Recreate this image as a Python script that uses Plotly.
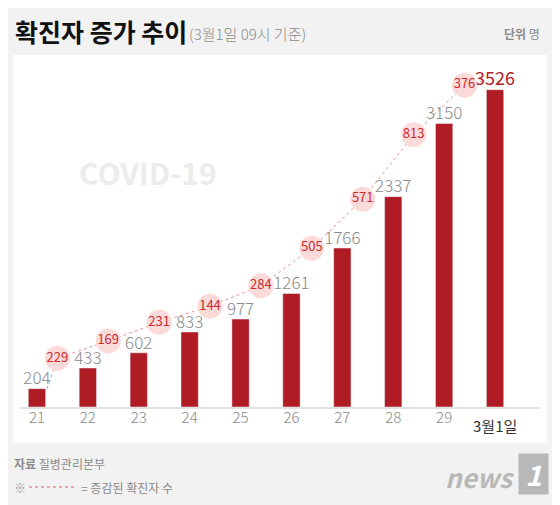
import plotly.graph_objects as go

days = ["21", "22", "23", "24", "25", "26", "27", "28", "29", "3월1일"]
cases = [204, 433, 602, 833, 977, 1261, 1766, 2337, 3150, 3526]
increase = [229, 169, 231, 144, 284, 505, 571, 813, 376]

FONT = "Noto Sans CJK KR"
RED = "#b01c24"
W, H = 560, 505
OFF = 8  # page body margin seen in the screenshot
x = list(range(len(days)))

# bubble positions along the dotted line between neighbouring bars
bx = [i + 0.4 for i in range(len(increase))]
by = [cases[i] + 0.6 * (cases[i + 1] - cases[i]) + 200 for i in range(len(increase))]
lx = [0.2] + bx + [8.8]
ly = [cases[0]] + by + [cases[-1] + 100]

fig = go.Figure()

fig.add_trace(go.Scatter(x=lx, y=ly, mode="lines",
                         line=dict(color="#e89090", width=1, dash="dot"),
                         hoverinfo="skip"))

fig.add_trace(go.Bar(x=x, y=cases, marker_color=RED, width=0.34,
                     hoverinfo="skip"))

fig.add_trace(go.Scatter(
    x=x[:-1], y=cases[:-1], mode="text", text=[str(v) for v in cases[:-1]],
    textposition="top center",
    textfont=dict(family=FONT, size=17, color="#8a8a8a", weight=300),
    hoverinfo="skip"))
fig.add_trace(go.Scatter(
    x=[x[-1]], y=[cases[-1]], mode="text", text=[str(cases[-1])],
    textposition="top center",
    textfont=dict(family=FONT, size=18, color=RED, weight=400), hoverinfo="skip"))

fig.add_trace(go.Scatter(
    x=bx, y=by, mode="markers+text", text=[str(v) for v in increase],
    marker=dict(size=25, color="#fbdada"),
    textfont=dict(family=FONT, size=13, color="#cc2b30"), hoverinfo="skip"))


def px(v):
    return (v - OFF) / W


def py(v):
    return 1 - (v - OFF) / H


fig.update_layout(
    width=W, height=H,
    margin=dict(l=0, r=0, t=0, b=0),
    paper_bgcolor="#f2f2f2", plot_bgcolor="rgba(0,0,0,0)",
    showlegend=False,
    xaxis=dict(domain=[px(11.5), px(520.5)], range=[-0.5, 9.5],
               tickvals=x, ticktext=days[:-1] + [""],
               tickfont=dict(family=FONT, size=15, color="#8a8a8a", weight=300),
               showgrid=False, zeroline=False, showline=False, ticks="",
               fixedrange=True),
    yaxis=dict(domain=[py(407), py(47)], range=[0, 4000], visible=False,
               fixedrange=True),
    shapes=[
        dict(type="rect", xref="paper", yref="paper", x0=px(13), x1=px(547),
             y0=py(443), y1=py(55), fillcolor="white", line_width=0, layer="below"),
        dict(type="line", xref="paper", yref="paper", x0=px(20), x1=px(540),
             y0=py(408), y1=py(408), line=dict(color="#e2e2e2", width=2)),
        dict(type="line", xref="paper", yref="paper", x0=px(29), x1=px(76),
             y0=py(487), y1=py(487), line=dict(color="#e06060", width=1, dash="dot")),
    ],
)

anns = [
    dict(x=14, y=31, text="<b>확진자 증가 추이</b>", size=25, color="#111111", xanchor="left"),
    dict(x=188, y=33, text="(3월1일 09시 기준)", size=15, color="#8a8a8a", xanchor="left", w=300),
    dict(x=541, y=33, text="<b>단위</b> 명", size=12, color="#8a8a8a", xanchor="right"),
    dict(x=495, y=425, text="3월1일", size=15, color="#333333", xanchor="center"),
    dict(x=13, y=463, text="<b>자료</b> 질병관리본부", size=12, color="#8a8a8a", xanchor="left"),
    dict(x=13, y=487, text="※", size=12, color="#9a9a9a", xanchor="left"),
    dict(x=80, y=487, text="= 증감된 확진자 수", size=12, color="#8a8a8a", xanchor="left"),
    dict(x=148, y=172, text="<b>COVID-19</b>", size=30, color="#ececec", xanchor="center"),
    dict(x=516, y=476, text="<b><i>news</i></b>", size=26, color="#b8b8b8", xanchor="right"),
    dict(x=533, y=474, text="<b><i> 1 </i></b>", size=28, color="#ffffff", xanchor="center",
         bg="#b8b8b8"),
]
for a in anns:
    fig.add_annotation(
        x=px(a["x"]), y=py(a["y"]), xref="paper", yref="paper",
        text=a["text"], showarrow=False, xanchor=a["xanchor"], yanchor="middle",
        font=dict(family=FONT, size=a["size"], color=a["color"], weight=a.get("w", 400)),
        bgcolor=a.get("bg", "rgba(0,0,0,0)"), borderpad=0)

fig.write_html("out.html")
